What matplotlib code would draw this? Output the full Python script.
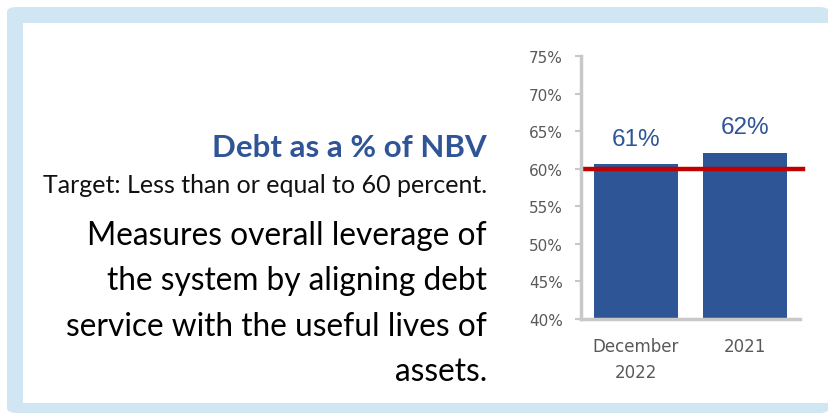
import matplotlib.pyplot as plt
from matplotlib.patches import FancyBboxPatch, Rectangle

# data
periods = ['December\n2022', '2021']
debt_pct = [60.6, 62.1]
value_labels = ['61%', '62%']
target = 60
yticks = [40, 45, 50, 55, 60, 65, 70, 75]

W, H = 829, 414
fig = plt.figure(figsize=(W / 100, H / 100), dpi=100)

# light blue frame with white panel
fig.patches.append(FancyBboxPatch((7 / W, 0), (W - 7) / W, (H - 8) / H,
                                  boxstyle='round,pad=0,rounding_size=0.012',
                                  transform=fig.transFigure, fc='#d0e6f3', ec='none',
                                  zorder=-10))
fig.patches.append(Rectangle((23 / W, 10 / H), (828 - 23) / W, (404 - 24) / H,
                             transform=fig.transFigure, fc='white', ec='none',
                             zorder=-9))

# left text block
fig.text(487 / W, 1 - 148 / H, 'Debt as a % of NBV', ha='right', va='center',
         fontsize=22.5, fontweight='bold', color='#2f5597', family='Lato')
fig.text(487 / W, 1 - 186 / H, 'Target: Less than or equal to 60 percent.', ha='right',
         va='center', fontsize=18, color='#111111', family='Lato')
body = ['Measures overall leverage of', 'the system by aligning debt',
        'service with the useful lives of', 'assets.']
for i, line in enumerate(body):
    fig.text(487 / W, 1 - (236 + 45.3 * i) / H, line, ha='right', va='center',
             fontsize=22.8, color='black', family='Lato')

# chart
ax = fig.add_axes([581 / W, 1 - 320 / H, (800 - 581) / W, (320 - 57) / H])
x = range(len(periods))
ax.bar(x, [v - 40 for v in debt_pct], bottom=40, width=0.77, color='#2e5596')
for i, (v, lab) in enumerate(zip(debt_pct, value_labels)):
    ax.text(i, v + 2.6, lab, ha='center', va='baseline', fontsize=17.5,
            color='#2f5597', family='Liberation Sans')
ax.plot([-0.48, 1.53], [target, target], color='#c00000', lw=3.2, clip_on=False)

ax.set_xlim(-0.5, 1.5)
ax.set_ylim(40, 75)
ax.set_yticks(yticks)
ax.set_yticklabels([f'{t}%' for t in yticks])
ax.set_xticks(list(x))
ax.set_xticklabels(periods, linespacing=1.6, va='top')
for s in ['top', 'right']:
    ax.spines[s].set_visible(False)
for s in ['left', 'bottom']:
    ax.spines[s].set_color('#c8c8c8')
    ax.spines[s].set_linewidth(2.5)
ax.tick_params(axis='y', colors='#595959', labelsize=11, length=4, width=1.5,
               pad=9)
ax.tick_params(axis='y', color='#c8c8c8')
ax.tick_params(axis='x', colors='#595959', labelsize=12, length=0, pad=13)
ax.set_facecolor('none')

fig.savefig('out.png', dpi=100, facecolor='white')
